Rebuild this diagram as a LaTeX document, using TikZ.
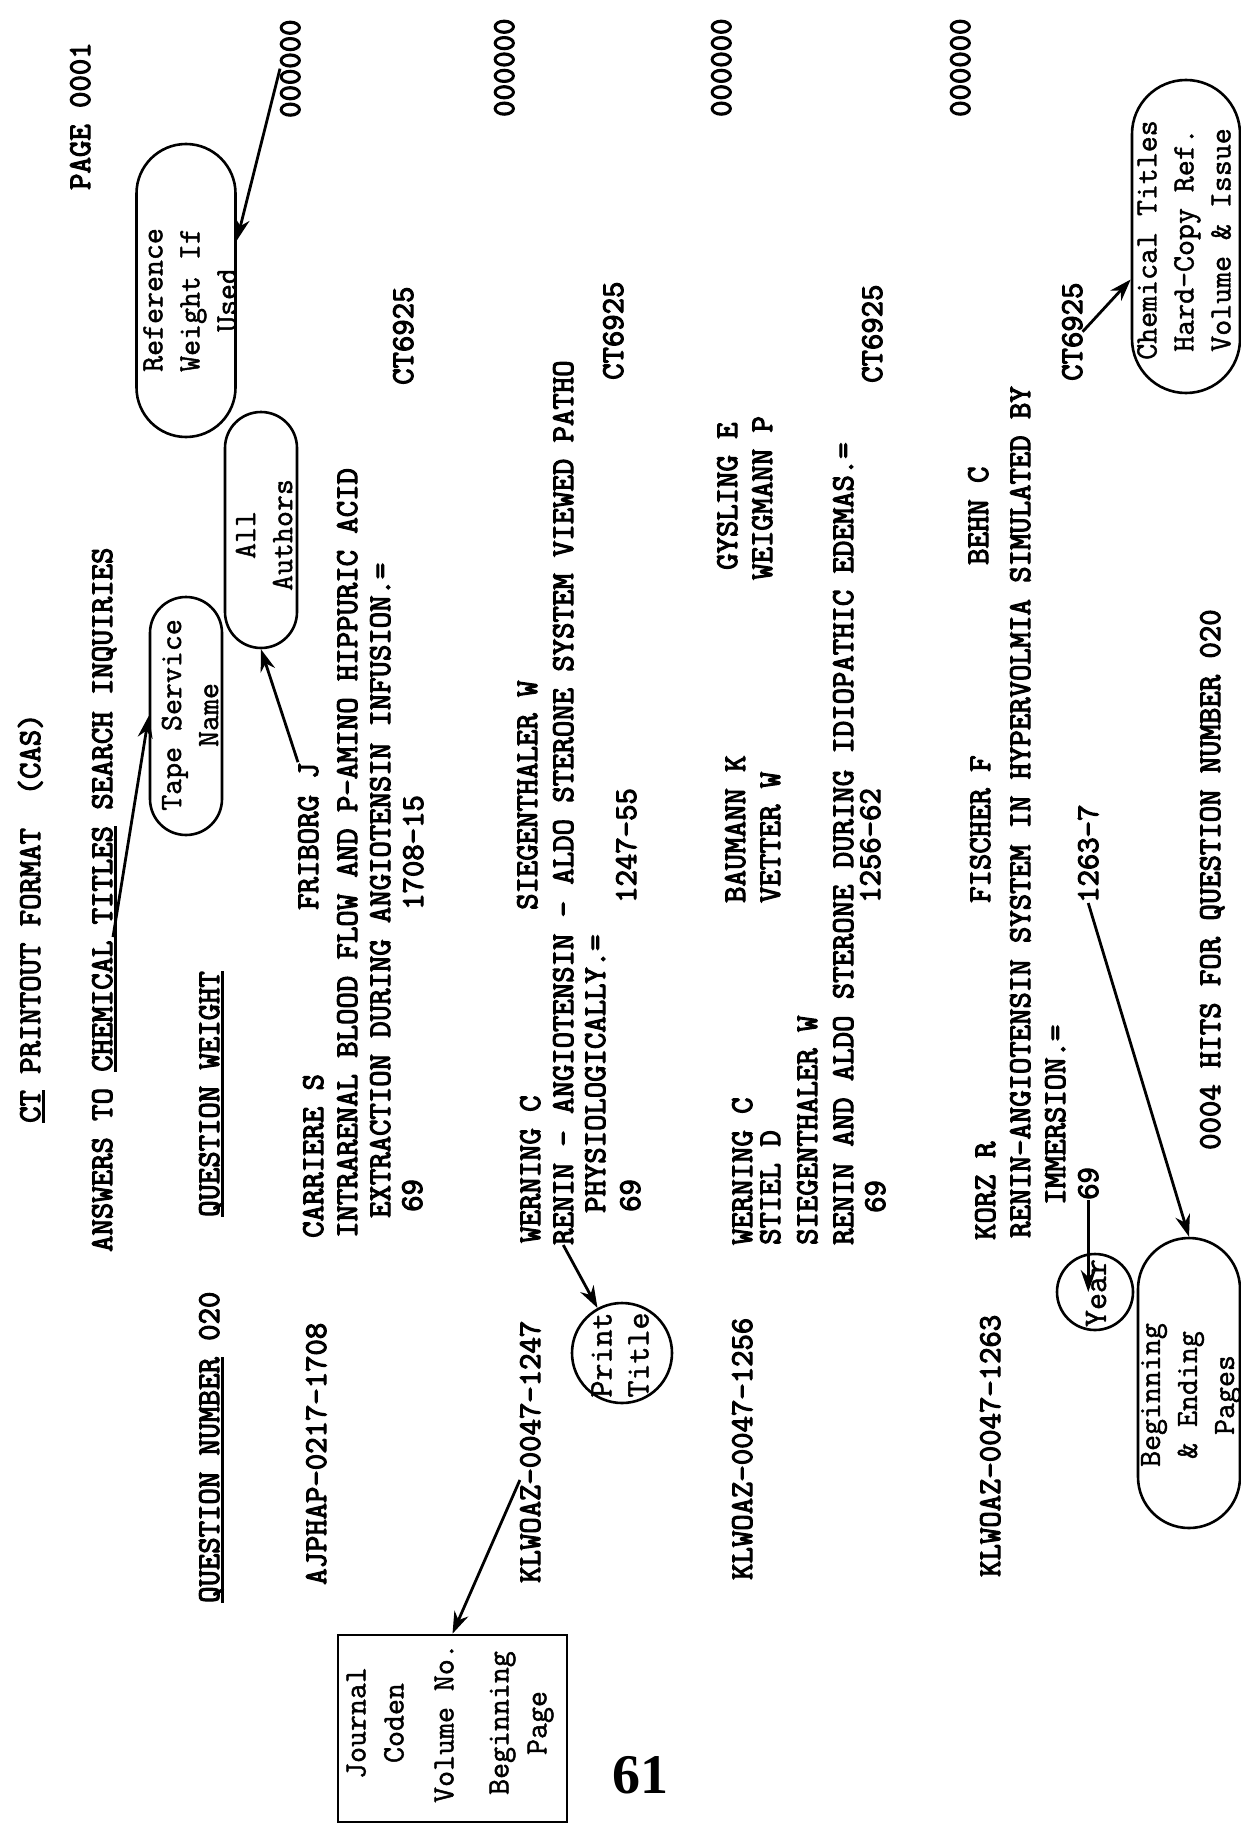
\documentclass[tikz,border=0pt]{standalone}
\usepackage{fontspec}
\newfontfamily\pfont[FakeBold=3.5]{Latin Modern Mono}
\newfontfamily\afont[FakeBold=1.5]{Latin Modern Mono}
\newfontfamily\bigfont{Liberation Serif}
\usetikzlibrary{shapes.misc,shapes.geometric,arrows.meta,calc}
\newcommand\myul[1]{\setbox0=\hbox{#1}\rlap{\rule[-5pt]{\wd0}{2.6pt}}\box0\relax}
\tikzset{
 pr/.style={rotate=90, anchor=base west, inner sep=0pt, font=\fontsize{31.8}{34}\selectfont\pfont},
 ntext/.style={rotate=90, inner sep=0pt, align=center, font=\fontsize{31}{37}\selectfont\afont},
 balloon/.style={rotate=90, draw, line width=2.6pt, inner sep=0pt, rounded rectangle},
 ring/.style={draw, line width=2.6pt, inner sep=0pt, circle},
 arr/.style={line width=2.8pt, -{Stealth[length=22pt,width=15pt]}},
}
\begin{document}
\begin{tikzpicture}[x=1pt,y=-1pt]
\useasboundingbox[fill=white] (0,0) rectangle (1241,1827);
% header
\node[pr] (pg) at (90,190) {PAGE 0001};
\node[pr] (t1) at (40,1123) {\myul{CT} PRINTOUT FORMAT\ \ (CAS)};
\node[pr] (t2) at (112,1252) {ANSWERS TO \myul{CHEMICAL TITLES} SEARCH INQUIRIES};
\node[pr] (qn) at (219,1603) {\myul{QUESTION NUMBER} 020};
\node[pr] (qw) at (219,1217) {\myul{QUESTION WEIGHT}};
% record 1
\node[pr] (k1) at (326,1585) {AJPHAP-0217-1708};
\node[pr] (a1) at (323,1238) {CARRIERE S};
\node[pr] (a1b) at (318,910) {FRIBORG J};
\node[pr] (l1) at (357,1238) {INTRARENAL BLOOD FLOW AND P-AMINO HIPPURIC ACID};
\node[pr] (l2) at (390,1218) {EXTRACTION DURING ANGIOTENSIN INFUSION.=};
\node[pr] (y1) at (422,1212) {69};
\node[pr] (pp1) at (423,910) {1708-15};
\node[pr] (c1) at (413,385) {CT6925};
\node[pr] (z1) at (300,118) {000000};
% record 2
\node[pr] (k2) at (540,1583) {KLWOAZ-0047-1247};
\node[pr] (a2) at (540,1243) {WERNING C};
\node[pr] (a2b) at (537,910) {SIEGENTHALER W};
\node[pr] (l3) at (573,1245) {RENIN - ANGIOTENSIN - ALDO STERONE SYSTEM VIEWED PATHO};
\node[pr] (l4) at (605,1213) {PHYSIOLOGICALLY.=};
\node[pr] (y2) at (640,1212) {69};
\node[pr] (pp2) at (636,903) {1247-55};
\node[pr] (c2) at (623,380) {CT6925};
\node[pr] (z2) at (514,117) {000000};
% record 3
\node[pr] (k3) at (752,1580) {KLWOAZ-0047-1256};
\node[pr] (a3) at (752,1245) {WERNING C};
\node[pr] (a3b) at (745,903) {BAUMANN K};
\node[pr] (a3c) at (737,570) {GYSLING E};
\node[pr] (s3) at (780,1245) {STIEL D};
\node[pr] (s3b) at (780,903) {VETTER W};
\node[pr] (s3c) at (772,580) {WEIGMANN P};
\node[pr] (s3d) at (817,1245) {SIEGENTHALER W};
\node[pr] (l5) at (853,1245) {RENIN AND ALDO STERONE DURING IDIOPATHIC EDEMAS.=};
\node[pr] (y3) at (885,1213) {69};
\node[pr] (pp3) at (880,903) {1256-62};
\node[pr] (c3) at (882,383) {CT6925};
\node[pr] (z3) at (731,117) {000000};
% record 4
\node[pr] (k4) at (1000,1577) {KLWOAZ-0047-1263};
\node[pr] (a4) at (995,1240) {KORZ R};
\node[pr] (a4b) at (990,903) {FISCHER F};
\node[pr] (a4c) at (988,565) {BEHN C};
\node[pr] (l6) at (1030,1238) {RENIN-ANGIOTENSIN SYSTEM IN HYPERVOLMIA SIMULATED BY};
\node[pr] (l7) at (1065,1205) {IMMERSION.=};
\node[pr] (y4) at (1098,1200) {69};
\node[pr] (pp4) at (1098,903) {1263-7};
\node[pr] (c4) at (1082,381) {CT6925};
\node[pr] (z4) at (970,117) {000000};
\node[pr] (hits) at (1220,1150) {0004 HITS FOR QUESTION NUMBER 020};
% annotation shapes
\node[balloon, minimum width=293pt, minimum height=99pt] (ref) at (186,290.5) {};
\node[ntext] (reft) at (190,300) {Reference\\Weight If\\Used};
\node[balloon, minimum width=236pt, minimum height=72pt] (auth) at (261,530) {};
\node[ntext] (autht) at (264,535) {All\\Authors};
\node[balloon, minimum width=238pt, minimum height=72pt] (tape) at (186,716) {};
\node[ntext] (tapet) at (190,715) {Tape Service\\Name};
\node[balloon, minimum width=313pt, minimum height=108pt] (chem) at (1186,236.5) {};
\node[ntext] (chemt) at (1184,240) {Chemical Titles\\Hard-Copy Ref.\\Volume \& Issue};
\node[balloon, minimum width=290pt, minimum height=102pt] (beg) at (1189,1383) {};
\node[ntext] (begt) at (1191,1395) {Beginning\\\& Ending\\Pages};
\node[ring, minimum size=100pt] (pt) at (622,1353) {};
\node[ntext, font=\fontsize{33}{37}\selectfont\afont] (ptt) at (620,1355) {Print\\Title};
\node[ring, minimum size=76pt] (year) at (1095,1292) {};
\node[ntext, font=\fontsize{33}{37}\selectfont\afont] (yeart) at (1096,1293) {Year};
\node[rotate=90, draw, line width=2.6pt, inner sep=0pt, minimum width=187pt, minimum height=229pt] (jbox) at (452.5,1728.5) {};
\node[ntext, font=\fontsize{31}{38}\selectfont\afont] (jboxt) at (450,1723) {Journal\\Coden\\[12pt]Volume No.\\[17pt]Beginning\\Page};
\node[font=\fontsize{56}{56}\selectfont\bigfont\bfseries] (pnum) at (640,1775) {61};
% connectors
\coordinate (ct) at ($(t2.base west)+(1,-315)$);
\draw[arr] (z1.north) -- ($(ref.south)+(0,-50)$);
\draw[arr] (ct) -- (tape.north);
\draw[arr] (a1b.north east) -- (auth.west);
\draw[arr] (l3.west) -- (pt);
\draw[arr] ($(k2.north west)+(0,-103)$) -- (jbox.east);
\draw[arr] (y4.west) -- (y4.west |- year.east);
\draw[arr] (pp4.west) -- (beg.east);
\draw[arr] (c4.south) -- ($(chem.north)+(0,43)$);
\end{tikzpicture}
\end{document}
